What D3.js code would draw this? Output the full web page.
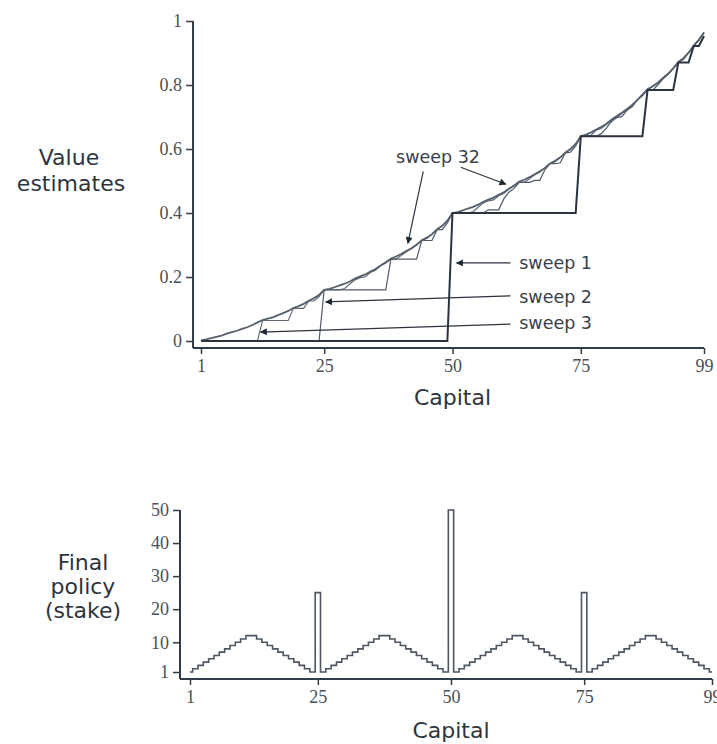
<!DOCTYPE html>
<html><head><meta charset="utf-8">
<script src="https://cdn.jsdelivr.net/npm/d3@7/dist/d3.min.js"></script>
<style>body{margin:0;background:#fff}svg{display:block}</style>
</head><body>
<svg id="c" width="717" height="744"></svg>
<script>
// ---------- data ----------
const capital = d3.range(1, 100);               // capital levels 1..99
const valueTicks = [0, 0.2, 0.4, 0.6, 0.8, 1];
const capitalTicks = [1, 25, 50, 75, 99];
const stakeTicks = [1, 10, 20, 30, 40, 50];

const sweep1 = [
0,0,0,0,0,0,0,0,0,0, 0,0,0,0,0,0,0,0,0,0, 0,0,0,0,0,0,0,0,0,0, 0,0,0,0,0,0,0,0,0,0,
0,0,0,0,0,0,0,0,0,0.4,
0.4,0.4,0.4,0.4,0.4,0.4,0.4,0.4,0.4,0.4, 0.4,0.4,0.4,0.4,0.4,0.4,0.4,0.4,0.4,0.4,
0.4,0.4,0.4,0.4,0.64,0.64,0.64,0.64,0.64,0.64, 0.64,0.64,0.64,0.64,0.64,0.64,0.64,0.784,0.784,0.784,
0.784,0.784,0.784,0.870,0.870,0.870,0.922,0.922,0.953];

const sweep2 = [
0,0,0,0,0,0,0,0,0,0, 0,0,0,0,0,0,0,0,0,0, 0,0,0,0,0.16,0.16,0.16,0.16,0.16,0.16,
0.16,0.16,0.16,0.16,0.16,0.16,0.16,0.256,0.256,0.256,
0.256,0.256,0.256,0.314,0.314,0.314,0.348,0.348,0.369,0.4,
0.4,0.4,0.4,0.4,0.4,0.4,0.410,0.410,0.410,0.444,
0.465,0.477,0.496,0.496,0.496,0.502,0.502,0.535,0.554,0.554,
0.557,0.588,0.590,0.610,0.64,0.64,0.64,0.64,0.648,0.666,
0.686,0.698,0.701,0.721,0.732,0.753,0.766,0.784,0.784,0.800,
0.819,0.833,0.852,0.870,0.880,0.900,0.922,0.940,0.964];

const sweep3 = [
0,0,0,0,0,0,0,0,0,0, 0,0,0.064,0.064,0.064,0.064,0.064,0.064,0.102,0.102,
0.102,0.125,0.125,0.139,0.16,0.16,0.16,0.16,0.164,0.178,
0.191,0.198,0.201,0.214,0.221,0.235,0.244,0.256,0.256,0.267,
0.279,0.288,0.301,0.314,0.320,0.333,0.348,0.360,0.376,0.4,
0.4,0.4,0.4,0.404,0.418,0.431,0.438,0.441,0.454,0.461,
0.475,0.484,0.496,0.496,0.507,0.519,0.528,0.541,0.554,0.560,
0.573,0.588,0.600,0.616,0.64,0.64,0.643,0.659,0.664,0.677,
0.690,0.698,0.711,0.725,0.736,0.753,0.770,0.784,0.795,0.806,
0.819,0.835,0.852,0.870,0.884,0.901,0.922,0.941,0.964];

const sweep32 = [
0.002,0.005,0.009,0.013,0.017,0.023,0.028,0.032,0.038,0.043,
0.050,0.058,0.065,0.070,0.074,0.081,0.087,0.094,0.103,0.109,
0.116,0.126,0.134,0.144,0.160,0.163,0.168,0.174,0.179,0.186,
0.195,0.202,0.208,0.217,0.225,0.236,0.246,0.258,0.264,0.272,
0.281,0.290,0.301,0.315,0.323,0.334,0.349,0.360,0.376,0.400,
0.403,0.408,0.414,0.419,0.426,0.435,0.442,0.448,0.457,0.465,
0.476,0.486,0.498,0.504,0.512,0.521,0.530,0.541,0.555,0.563,
0.574,0.589,0.600,0.616,0.640,0.645,0.652,0.661,0.669,0.679,
0.692,0.703,0.713,0.725,0.738,0.753,0.770,0.787,0.796,0.807,
0.822,0.835,0.852,0.872,0.884,0.901,0.923,0.941,0.964];

const policy = [
1,2,3,4,5,6,7,8,9,10,11,12, 12,11,10,9,8,7,6,5,4,3,2,1, 25,
1,2,3,4,5,6,7,8,9,10,11,12, 12,11,10,9,8,7,6,5,4,3,2,1, 50,
1,2,3,4,5,6,7,8,9,10,11,12, 12,11,10,9,8,7,6,5,4,3,2,1, 25,
1,2,3,4,5,6,7,8,9,10,11,12, 12,11,10,9,8,7,6,5,4,3,2,1];

// annotations: label, text anchor in data coords, arrows [from, tip] in data coords
const notes = [
  {text: "sweep 32", tx: 39.0, ty: 0.555, arrows: [[[44.3, 0.53], [41.3, 0.305]], [[51.6, 0.543], [60.4, 0.49]]]},
  {text: "sweep 1", tx: 63.0, ty: 0.225, arrows: [[[61.3, 0.244], [50.8, 0.244]]]},
  {text: "sweep 2", tx: 63.0, ty: 0.118, arrows: [[[61.3, 0.141], [25.3, 0.122]]]},
  {text: "sweep 3", tx: 63.0, ty: 0.036, arrows: [[[61.3, 0.053], [12.6, 0.028]]]}
];

// ---------- drawing ----------
const svg = d3.select("#c");
const ink = "#323c48";
const sans = "'DejaVu Sans', sans-serif";
const serif = "'Liberation Serif', serif";

svg.append("defs").append("marker")
  .attr("id", "ah").attr("viewBox", "0 0 10 10").attr("refX", 9).attr("refY", 5)
  .attr("markerWidth", 10).attr("markerHeight", 7).attr("markerUnits", "userSpaceOnUse")
  .attr("orient", "auto")
  .append("path").attr("d", "M0,0 L10,5 L0,10 Z").attr("fill", "#1e2630");

function frame(g, x, y, axX, axY, xt, yt, yfmt) {
  g.append("line").attr("x1", axX).attr("x2", x.range()[1]).attr("y1", axY).attr("y2", axY)
    .attr("stroke", ink).attr("stroke-width", 2);
  g.append("line").attr("x1", axX).attr("x2", axX).attr("y1", y.range()[1]).attr("y2", axY)
    .attr("stroke", ink).attr("stroke-width", 2);
  const xa = g.append("g").attr("transform", `translate(0,${axY})`)
    .call(d3.axisBottom(x).tickValues(xt).tickSize(6).tickPadding(5).tickFormat(d3.format("d")));
  const ya = g.append("g").attr("transform", `translate(${axX},0)`)
    .call(d3.axisLeft(y).tickValues(yt).tickSize(7).tickPadding(4).tickFormat(yfmt));
  [xa, ya].forEach(a => {
    a.select(".domain").remove();
    a.selectAll(".tick line").attr("stroke", ink).attr("stroke-width", 1.5);
    a.selectAll(".tick text").attr("fill", "#4a4f58").style("font-family", serif).style("font-size", "18px");
  });
}

// ----- top chart -----
const x1 = d3.scaleLinear().domain([1, 99]).range([201, 704]);
const y1 = d3.scaleLinear().domain([0, 1]).range([341, 21]);
const gTop = svg.append("g");
frame(gTop, x1, y1, 193, 348, capitalTicks, valueTicks, d => d === 0 ? "0" : d === 1 ? "1" : d3.format(".1f")(d));

const line1 = d3.line().x((d, i) => x1(capital[i])).y(d => y1(d));
gTop.append("path").attr("d", line1(sweep3)).attr("fill", "none").attr("stroke", "#5d6672").attr("stroke-width", 1.1);
gTop.append("path").attr("d", line1(sweep2)).attr("fill", "none").attr("stroke", "#505966").attr("stroke-width", 1.2);
gTop.append("path").attr("d", line1(sweep32)).attr("fill", "none").attr("stroke", "#55606c").attr("stroke-width", 1.8);
gTop.append("path").attr("d", line1(sweep1)).attr("fill", "none").attr("stroke", "#2a333e").attr("stroke-width", 2);

notes.forEach(n => {
  gTop.append("text").attr("x", x1(n.tx)).attr("y", y1(n.ty)).text(n.text)
    .style("font-family", sans).style("font-size", "17.5px").attr("fill", "#3a3f47");
  n.arrows.forEach(([a, b]) => {
    gTop.append("line").attr("x1", x1(a[0])).attr("y1", y1(a[1])).attr("x2", x1(b[0])).attr("y2", y1(b[1]))
      .attr("stroke", "#2a333e").attr("stroke-width", 1.2).attr("marker-end", "url(#ah)");
  });
});

gTop.append("text").attr("text-anchor", "middle").attr("x", 69).attr("y", 165)
  .style("font-family", sans).style("font-size", "22px").attr("fill", "#2f343b").text("Value");
gTop.append("text").attr("text-anchor", "middle").attr("x", 71).attr("y", 191)
  .style("font-family", sans).style("font-size", "22px").attr("fill", "#2f343b").text("estimates");
gTop.append("text").attr("text-anchor", "middle").attr("x", x1(50)).attr("y", 405)
  .style("font-family", sans).style("font-size", "22px").attr("fill", "#2f343b").text("Capital");

// ----- bottom chart -----
const x2 = d3.scaleLinear().domain([1, 99]).range([190, 712]);
const y2 = d3.scaleLinear().domain([1, 50]).range([672, 510]);
const gBot = svg.append("g");
frame(gBot, x2, y2, 180, 679, capitalTicks, stakeTicks, d3.format("d"));

const line2 = d3.line().curve(d3.curveStep).x((d, i) => x2(capital[i])).y(d => y2(d));
gBot.append("path").attr("d", line2(policy)).attr("fill", "none").attr("stroke", "#4d5662").attr("stroke-width", 1.6);

[["Final", 570], ["policy", 594], ["(stake)", 618]].forEach(([t, yy]) => {
  gBot.append("text").attr("text-anchor", "middle").attr("x", 83).attr("y", yy)
    .style("font-family", sans).style("font-size", "22px").attr("fill", "#2f343b").text(t);
});
gBot.append("text").attr("text-anchor", "middle").attr("x", x2(50)).attr("y", 738)
  .style("font-family", sans).style("font-size", "22px").attr("fill", "#2f343b").text("Capital");
</script>
</body></html>
